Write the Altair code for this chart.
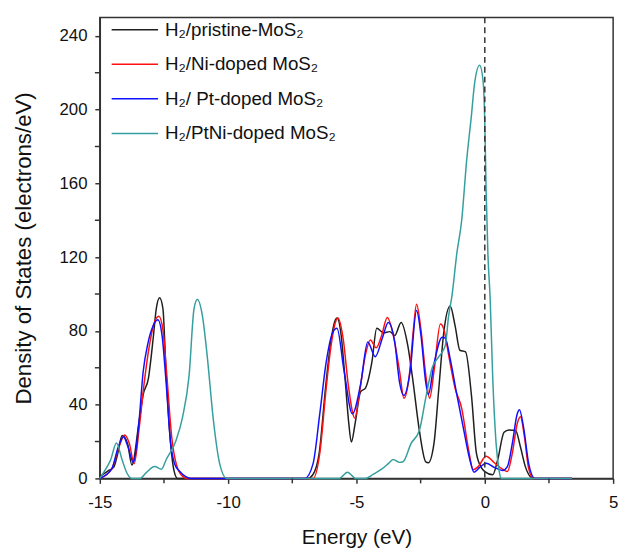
import altair as alt
import pandas as pd

series_names = ["H₂/pristine-MoS₂", "H₂/Ni-doped MoS₂", "H₂/ Pt-doped MoS₂", "H₂/PtNi-doped MoS₂"]
series_colors = ["#1f1f1f", "#ff1010", "#1010ff", "#359e9e"]

pristine_e = [-15, -14.69, -14.46, -14.31, -14.13, -13.92, -13.75, -13.46, -13.31, -13.11, -12.92, -12.80,
              -12.67, -12.54, -12.42, -12.26, -12.1, -11.97, -6.9, -6.7, -6.45, -6.2, -6.0, -5.85, -5.75,
              -5.6, -5.45, -5.3, -5.2, -5.05, -4.84, -4.65, -4.40, -4.21, -3.95, -3.70, -3.51, -3.26, -3.0,
              -2.81, -2.55, -2.30, -2.2, -1.98, -1.79, -1.60, -1.35, -1.16, -0.97, -0.75, -0.52, -0.33,
              -0.14, 0.0, 0.31, 0.50, 0.75, 0.94, 1.2, 1.39, 1.58, 1.77, 1.9, 3.4]
pristine_d = [1, 4, 6, 13, 23.3, 19, 7.3, 32, 45.5, 54, 76, 92, 98, 92, 58, 22, 3.7, 0, 0, 2, 14, 50, 74,
              85, 87, 78, 55, 30, 19.7, 30, 47, 49, 63, 81.4, 79, 79.6, 77.5, 84.6, 72, 54, 26, 9, 8.5, 19,
              49, 79, 93.5, 83, 69.5, 68.6, 45, 14, 6, 3.7, 2, 10, 25, 26.3, 26, 17, 6.4, 1, 0, 0]

ni_e = [-15, -14.54, -14.23, -14.03, -13.85, -13.66, -13.46, -13.28, -13.08, -12.88, -12.70, -12.54, -12.39,
        -12.2, -12.0, -11.77, -11.6, -6.69, -6.43, -6.18, -5.99, -5.80, -5.72, -5.51, -5.32, -5.06, -4.91,
        -4.65, -4.46, -4.23, -4.02, -3.80, -3.57, -3.32, -3.15, -2.94, -2.78, -2.66, -2.49, -2.30, -2.15,
        -1.98, -1.73, -1.60, -1.41, -1.16, -0.90, -0.65, -0.45, -0.26, 0.05, 0.37, 0.69, 0.88, 1.07, 1.26,
        1.39, 1.54, 1.71, 1.9, 3.4]
ni_d = [0, 5, 18, 23.6, 19, 8, 28, 50.7, 71, 84.4, 88, 80.6, 56, 22.6, 6.7, 1.1, 0, 0, 13.5, 49, 72, 85.5,
        87, 75, 50.7, 32.6, 44, 67, 75, 70.8, 77.5, 87.3, 78, 58, 43.5, 56, 81, 94.4, 81, 56, 43.5, 58, 83.7,
        81, 67, 49, 38, 17, 4.7, 6.4, 12, 8.5, 5, 3.7, 13.5, 29.5, 33.4, 23, 5.3, 0, 0]

pt_e = [-15, -14.54, -14.28, -14.08, -13.9, -13.69, -13.49, -13.31, -13.13, -12.93, -12.74, -12.57, -12.42,
        -12.24, -12.08, -11.9, -11.65, -11.45, -7.01, -6.69, -6.43, -6.18, -5.93, -5.76, -5.48, -5.16, -4.84,
        -4.56, -4.27, -3.98, -3.76, -3.51, -3.32, -3.15, -2.91, -2.66, -2.49, -2.30, -2.2, -1.98, -1.66,
        -1.54, -1.35, -1.09, -0.84, -0.58, -0.42, -0.2, 0.05, 0.37, 0.69, 0.88, 1.07, 1.26, 1.35, 1.51, 1.71,
        1.95, 3.4]
pt_d = [0, 5, 17, 22.6, 17, 8.6, 28, 58, 73, 82.5, 86, 77, 52.6, 19, 7.7, 4, 1, 0, 0, 8, 35, 63, 79, 81.4,
        58, 35, 51, 74, 66, 76.6, 84.6, 74, 52, 45, 58, 91, 78, 52, 45.5, 62, 76.6, 76, 65, 45.5, 27.7, 10,
        3.4, 6, 8.2, 6, 4.3, 6.4, 18.8, 34.8, 37.2, 27.7, 8, 0, 0]

ptni_e = [-15, -14.83, -14.58, -14.35, -14.13, -13.94, -13.75, -13.43, -13.2, -12.86, -12.6, -12.42, -12.03,
          -11.78, -11.52, -11.33, -11.2, -11.0, -10.82, -10.57, -10.33, -10.06, -5.67, -5.35, -5.03, -4.65,
          -4.34, -4.02, -3.76, -3.57, -3.32, -3.19, -2.87, -2.55, -2.30, -2.05, -1.79, -1.54, -1.41, -1.28,
          -1.09, -0.90, -0.71, -0.52, -0.40, -0.20, -0.07, 0.0, 0.05, 0.12, 0.21, 0.31, 0.44, 0.55, 0.63, 3.4]
ptni_d = [0, 3.7, 10, 19.2, 10, 2.8, 0, 0, 3, 6.4, 5, 10, 20.6, 33, 56, 92, 97, 88, 67, 31, 8, 0, 0, 3.4, 0,
          0, 2.3, 5, 8, 10.3, 8.7, 9, 19, 26, 43.7, 60, 66, 72, 88, 99, 122, 140, 172, 197, 214, 224, 216,
          193, 157, 122, 97, 54, 19, 5, 0, 0]

x_ticks = [-15, -10, -5, 0, 5]
x_minor = [-12.5, -7.5, -2.5, 2.5]
y_ticks = [0, 40, 80, 120, 160, 200, 240]
y_minor = [20, 60, 100, 140, 180, 220]
fermi = [0]

rows = []
for order, (name, es, ds) in enumerate(zip(series_names, [pristine_e, ni_e, pt_e, ptni_e],
                                           [pristine_d, ni_d, pt_d, ptni_d])):
    for e, d in zip(es, ds):
        rows.append({"series": name, "energy": e, "dos": d, "k": order})
df = pd.DataFrame(rows)

FONT = "Liberation Sans"
W, H = 520, 467
x_scale = alt.Scale(domain=[-15, 5], nice=False, zero=False)
y_scale = alt.Scale(domain=[0, 250], nice=False)

axis_common = dict(grid=False, domainColor="#333333", domainWidth=1.5, tickColor="#333333",
                   tickWidth=1.5, tickSize=5, labelFont=FONT, labelFontSize=17, labelColor="#111111",
                   titleFont=FONT, titleFontWeight="normal", titleColor="#111111",
                   labelFlush=False, labelOverlap=False)

lines = alt.Chart(df).mark_line(strokeWidth=1.5, interpolate="monotone").encode(
    x=alt.X("energy:Q", scale=x_scale,
            axis=alt.Axis(values=x_ticks, title="Energy (eV)", titlePadding=17, labelPadding=11,
                          titleFontSize=21, labelExpr="'' + datum.value", **axis_common)),
    y=alt.Y("dos:Q", scale=y_scale,
            axis=alt.Axis(values=y_ticks, title="Density of States (electrons/eV)", titlePadding=24,
                          titleFontSize=22.5, labelPadding=8, labelExpr="'' + datum.value",
                          **axis_common)),
    color=alt.Color("series:N",
                    scale=alt.Scale(domain=series_names, range=series_colors),
                    legend=alt.Legend(title=None, orient="none", legendX=11, legendY=-12,
                                      symbolType="stroke", symbolSize=2209, symbolStrokeWidth=1.5,
                                      labelFont=FONT, labelFontSize=19, labelColor="#111111",
                                      labelLimit=0, labelOffset=6, rowPadding=0)),
    order=alt.Order("k:Q"),
    detail="series:N",
)

fermi_rule = alt.Chart(pd.DataFrame({"e": fermi})).mark_rule(
    color="#333333", strokeWidth=1.5, strokeDash=[6, 4]).encode(x=alt.X("e:Q", scale=x_scale))

ymin = alt.Chart(pd.DataFrame({"v": y_minor})).mark_rule(color="#333333", strokeWidth=1.5).encode(
    y=alt.Y("v:Q", scale=y_scale), x=alt.value(-5), x2=alt.value(0))

xmin = alt.Chart(pd.DataFrame({"v": x_minor})).mark_rule(color="#333333", strokeWidth=1.5).encode(
    x=alt.X("v:Q", scale=x_scale), y=alt.value(H), y2=alt.value(H + 5))

chart = alt.layer(lines, fermi_rule, ymin, xmin).properties(
    width=W, height=H,
    autosize=alt.AutoSizeParams(type="none"),
    padding={"left": 93, "top": 6, "right": 10, "bottom": 70},
).configure_view(stroke="#333333", strokeWidth=1.5)

chart.save("out.html", embed_options={"renderer": "svg", "actions": False})
